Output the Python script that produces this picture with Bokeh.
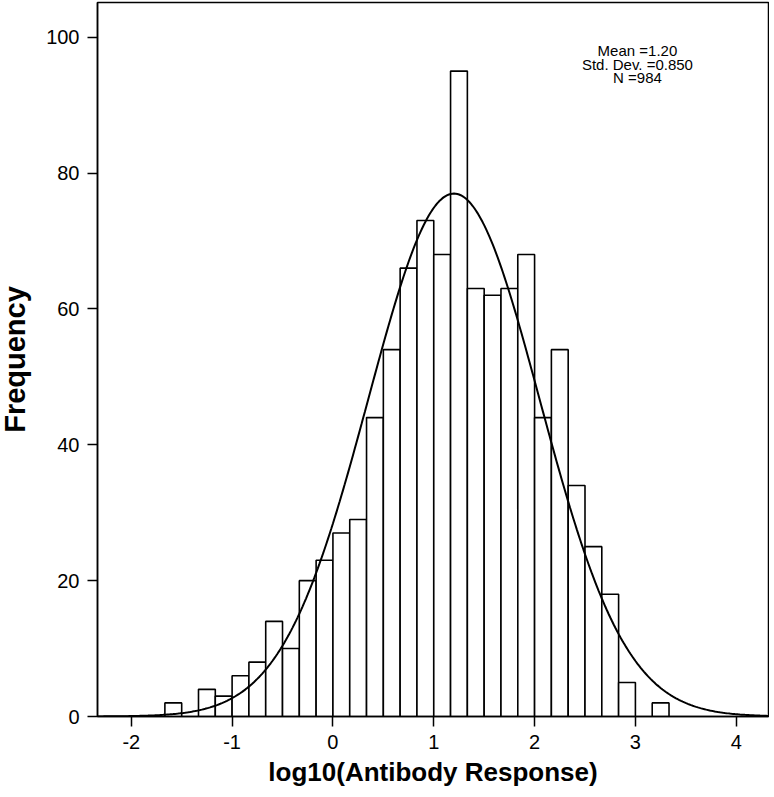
import numpy as np
from bokeh.plotting import figure
from bokeh.models import Range1d, FixedTicker, Label, ColumnDataSource
from bokeh.embed import file_html
from bokeh.resources import INLINE

# Histogram data (bin width 1/6)
bin_width = 1.0 / 6.0
bin_index = list(range(-10, 20))
counts = [2, 0, 4, 3, 6, 8, 14, 10, 20, 23,
          27, 29, 44, 54, 66, 73, 68, 95, 63, 62,
          63, 68, 44, 54, 34, 25, 18, 5, 0, 2]

# Summary statistics shown on the chart
mean_val = 1.20
sd_val = 0.850
n_val = 984
stats_lines = ["Mean =1.20", "Std. Dev. =0.850", "N =984"]
stats_y = [98.0, 96.0, 94.0]

x_ticks = [-2, -1, 0, 1, 2, 3, 4]
x_tick_labels = {-2: "-2", -1: "-1", 0: "0", 1: "1", 2: "2", 3: "3", 4: "4"}
y_ticks = [0, 20, 40, 60, 80, 100]

x_min, x_max = -2.335, 4.32
y_min, y_max = 0, 105.1

p = figure(width=773, height=799, output_backend="svg", toolbar_location=None,
           x_range=Range1d(x_min, x_max), y_range=Range1d(y_min, y_max),
           min_border_left=97, min_border_right=1, min_border_top=6, min_border_bottom=79,
           margin=(-4, 0, -4, -4))
p.background_fill_color = "white"
p.border_fill_color = "white"
p.outline_line_color = "black"
p.outline_line_width = 1.5
p.xgrid.visible = False
p.ygrid.visible = False

lefts = [k * bin_width for k, c in zip(bin_index, counts) if c > 0]
rights = [l + bin_width for l in lefts]
tops = [c for c in counts if c > 0]
src = ColumnDataSource(dict(left=lefts, right=rights, top=tops, bottom=[0] * len(tops)))
p.quad(left="left", right="right", top="top", bottom="bottom", source=src,
       fill_color="white", line_color="black", line_width=1.6)

# Fitted normal curve from stated statistics
xs = np.linspace(x_min, x_max, 400)
ys = n_val * bin_width / (sd_val * np.sqrt(2 * np.pi)) * np.exp(-0.5 * ((xs - mean_val) / sd_val) ** 2)
p.line(xs, ys, line_color="black", line_width=2)

# Stats annotation
for txt, yy in zip(stats_lines, stats_y):
    p.add_layout(Label(x=3.02, y=yy, text=txt, text_align="center", text_baseline="middle",
                       text_font="Liberation Sans", text_font_size="15px", text_color="black"))

for ax in (p.xaxis[0], p.yaxis[0]):
    ax.axis_line_color = "black"
    ax.axis_line_width = 1.5
    ax.major_tick_line_color = "black"
    ax.major_tick_line_width = 1.5
    ax.major_tick_out = 10
    ax.major_tick_in = 0
    ax.minor_tick_line_color = None
    ax.major_label_text_font = "Liberation Sans"
    ax.major_label_text_font_size = "20px"
    ax.major_label_text_color = "black"
    ax.axis_label_text_font = "Liberation Sans"
    ax.axis_label_text_font_style = "bold"
    ax.axis_label_text_color = "black"

p.xaxis.ticker = FixedTicker(ticks=x_ticks)
p.xaxis.major_label_overrides = x_tick_labels
p.yaxis.ticker = FixedTicker(ticks=y_ticks)
p.xaxis.axis_label = "log10(Antibody Response)"
p.yaxis.axis_label = "Frequency"
p.xaxis.axis_label_text_font_size = "26px"
p.yaxis.axis_label_text_font_size = "29px"
p.xaxis.major_label_standoff = 8
p.yaxis.major_label_standoff = 8
p.xaxis.axis_label_standoff = 5
p.yaxis.axis_label_standoff = 12

open("out.html", "w").write(file_html(p, INLINE))
